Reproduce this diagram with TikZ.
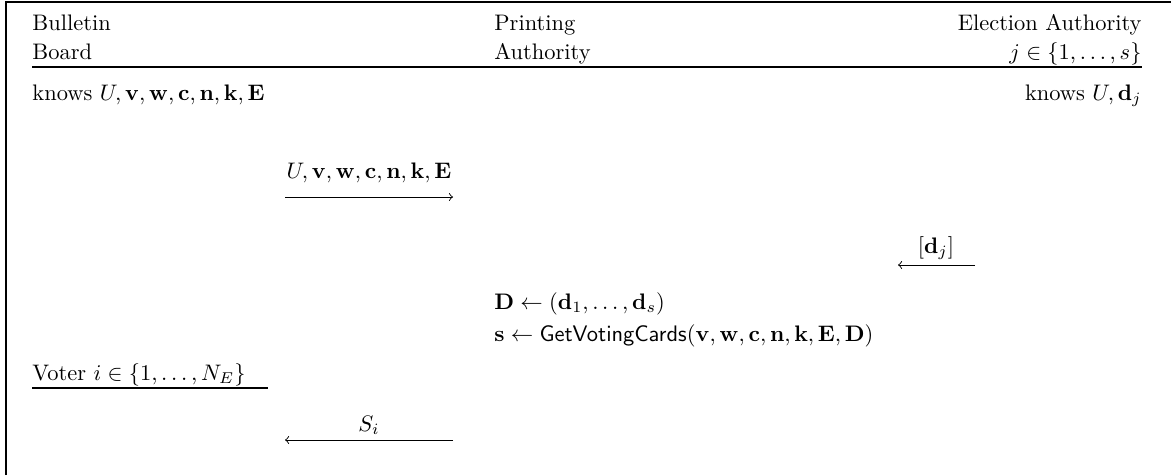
\documentclass[tikz,border=0pt]{standalone}
\usepackage{amsmath,amssymb}
\begin{document}
\begin{tikzpicture}[x=.4454pt,y=-.4454pt,
  lbl/.style={inner sep=0pt,anchor=base west},
  rlbl/.style={inner sep=0pt,anchor=base east},
  mlbl/.style={inner sep=0pt,anchor=base},
  msg/.style={->,line width=.4pt}]
\path[use as bounding box] (0,0) rectangle (1171,475);
\draw[line width=.5pt] (6,475)--(6,2)--(1171,2);
% parties
\node[lbl] (bbTop) at (32,30) {Bulletin};
\node[lbl] (bbBot) at (32,59) {Board};
\node[lbl] (paTop) at (494,30) {Printing};
\node[lbl] (paBot) at (494,59) {Authority};
\node[rlbl] (eaTop) at (1142,30) {Election Authority};
\node[rlbl] (eaBot) at (1142,59) {$j\in\{1,\ldots,s\}$};
\draw[line width=.5pt] (32,67)--(1142,67);
\node[lbl] (bbKnows) at (32,100) {knows $U,\mathbf{v},\mathbf{w},\mathbf{c},\mathbf{n},\mathbf{k},\mathbf{E}$};
\node[rlbl] (eaKnows) at (1142,100) {knows $U,\mathbf{d}_j$};
% messages
\coordinate (bbOut) at (285,197);
\coordinate (paIn) at (453,197);
\draw[msg] (bbOut) -- (paIn);
\node[mlbl] (msgBB) at (369,178) {$U,\mathbf{v},\mathbf{w},\mathbf{c},\mathbf{n},\mathbf{k},\mathbf{E}$};
\coordinate (eaOut) at (975,265);
\coordinate (paIn2) at (898,265);
\draw[msg] (eaOut) -- (paIn2);
\node[mlbl] (msgEA) at (936,253) {$[\mathbf{d}_j]$};
\node[lbl] (paStepA) at (494,309) {$\mathbf{D}\leftarrow(\mathbf{d}_1,\ldots,\mathbf{d}_s)$};
\node[lbl] (paStepB) at (494,341) {$\mathbf{s}\leftarrow\mathsf{GetVotingCards}(\mathbf{v},\mathbf{w},\mathbf{c},\mathbf{n},\mathbf{k},\mathbf{E},\mathbf{D})$};
% voter
\node[lbl] (voter) at (32,380) {Voter $i\in\{1,\ldots,N_E\}$};
\draw[line width=.5pt] (32,388)--(268,388);
\coordinate (paOut) at (453,440);
\coordinate (vIn) at (285,440);
\draw[msg] (paOut) -- (vIn);
\node[mlbl] (msgV) at (369,431) {$S_i$};
\end{tikzpicture}
\end{document}
